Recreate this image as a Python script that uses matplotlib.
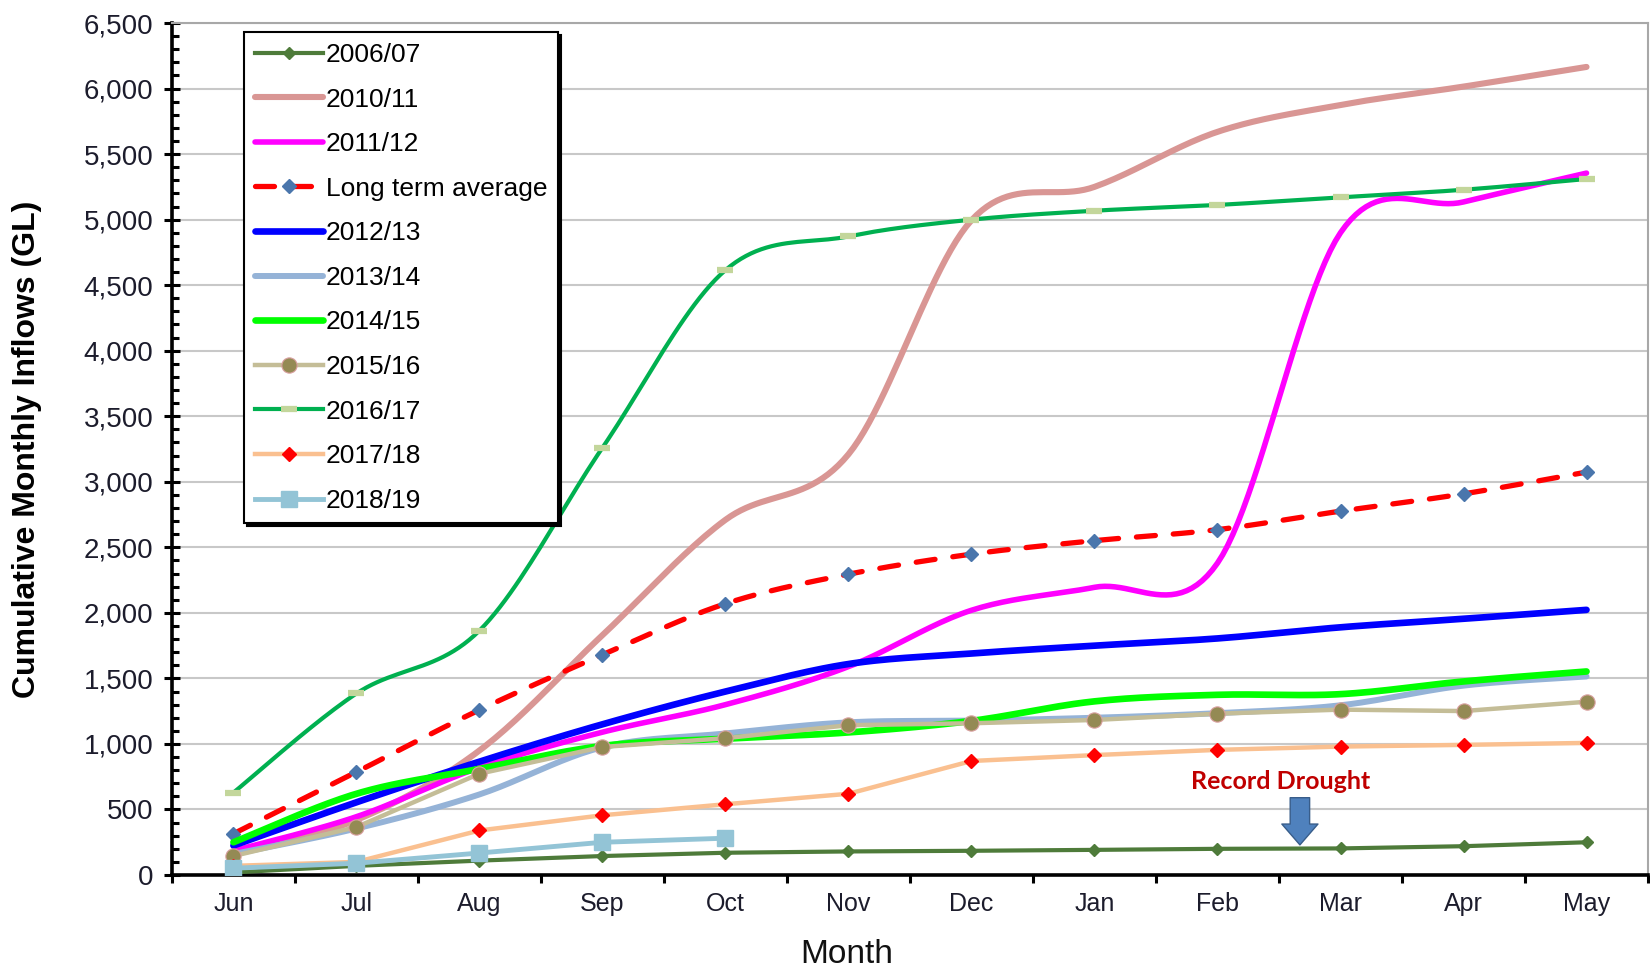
import numpy as np
import matplotlib
matplotlib.use("Agg")
import matplotlib.pyplot as plt
from matplotlib.ticker import FuncFormatter, MultipleLocator, FixedLocator

plt.rcParams['font.family'] = ['Liberation Sans', 'DejaVu Sans']

months = ['Jun', 'Jul', 'Aug', 'Sep', 'Oct', 'Nov', 'Dec', 'Jan', 'Feb', 'Mar', 'Apr', 'May']

# cumulative inflows (GL)
y2006 = [20, 70, 110, 145, 170, 180, 185, 192, 200, 203, 220, 250]
y2010 = [160, 420, 950, 1830, 2710, 3210, 4995, 5250, 5670, 5875, 6015, 6165]
y2011 = [185, 445, 820, 1090, 1300, 1590, 2020, 2195, 2380, 4900, 5135, 5355]
long_avg = [315, 786, 1260, 1680, 2070, 2295, 2448, 2551, 2635, 2776, 2908, 3074]
y2012 = [225, 555, 865, 1150, 1400, 1610, 1690, 1750, 1805, 1890, 1955, 2023]
y2013 = [160, 355, 615, 975, 1080, 1165, 1178, 1200, 1235, 1295, 1445, 1515]
y2014 = [250, 620, 810, 985, 1040, 1088, 1176, 1325, 1375, 1380, 1477, 1553]
y2015 = [145, 366, 773, 977, 1044, 1143, 1158, 1183, 1231, 1262, 1251, 1322]
y2016 = [629, 1385, 1865, 3260, 4615, 4872, 5000, 5068, 5112, 5170, 5228, 5310]
y2017 = [70, 100, 340, 456, 540, 620, 870, 915, 955, 980, 993, 1008]
y2018 = [52, 90, 168, 250, 281]

drought_pos = 8.67   # between Feb and Mar
drought_top, drought_tip = 590, 230


def smooth(vals, n=24):
    """Excel-like smoothed line (Catmull-Rom bezier). Returns x, y, marker idx."""
    x = np.arange(len(vals), dtype=float)
    y = np.asarray(vals, dtype=float)
    P = np.column_stack([x, y])
    P = np.vstack([P[:1], P, P[-1:]])
    t = np.linspace(0, 1, n, endpoint=False)[:, None]
    out = []
    for i in range(len(vals) - 1):
        p0, p1, p2, p3 = P[i], P[i + 1], P[i + 2], P[i + 3]
        c1 = p1 + (p2 - p0) / 6
        c2 = p2 - (p3 - p1) / 6
        seg = ((1 - t) ** 3) * p1 + 3 * ((1 - t) ** 2) * t * c1 + 3 * (1 - t) * t ** 2 * c2 + t ** 3 * p2
        out.append(seg)
    out.append(P[-2:-1])
    out = np.vstack(out)
    return out[:, 0], out[:, 1], list(range(0, len(out), n))


fig = plt.figure(figsize=(16.5, 9.67), dpi=100)
ax = fig.add_axes([0.1042, 0.0951, 0.8946, 0.8811])

# 2006/07
ax.plot(range(len(y2006)), y2006, color='#4E7B3A', lw=3, marker='D', ms=6.5,
        mfc='#4E7B3A', mec='#4E7B3A', label='2006/07', zorder=3)
# 2010/11
sx, sy, mk = smooth(y2010)
ax.plot(sx, sy, color='#D99694', lw=4.4, solid_capstyle='round', label='2010/11', zorder=3)
# 2011/12
sx, sy, mk = smooth(y2011)
ax.plot(sx, sy, color='#FF00FF', lw=4, solid_capstyle='round', label='2011/12', zorder=3)
# long term average
sx, sy, mk = smooth(long_avg)
ax.plot(sx, sy, color='#FF0000', lw=3.8, dashes=(3.6, 3.4), dash_capstyle='round',
        marker='D', ms=7, mfc='#4A76AC', mec='#4A76AC', markevery=mk,
        label='Long term average', zorder=3)
# 2012/13
sx, sy, mk = smooth(y2012)
ax.plot(sx, sy, color='#0000FF', lw=4.8, solid_capstyle='round', label='2012/13', zorder=3)
# 2013/14
sx, sy, mk = smooth(y2013)
ax.plot(sx, sy, color='#95B3D7', lw=4.3, solid_capstyle='round', label='2013/14', zorder=3)
# 2014/15
sx, sy, mk = smooth(y2014)
ax.plot(sx, sy, color='#00FF00', lw=4.8, solid_capstyle='round', label='2014/15', zorder=3)
# 2015/16
ax.plot(range(len(y2015)), y2015, color='#C4BD97', lw=3.2, marker='o', ms=11,
        mfc='#948A54', mec='#D9A0A0', mew=0.8, label='2015/16', zorder=3)
# 2016/17
sx, sy, mk = smooth(y2016)
ax.plot(sx, sy, color='#00B050', lw=3, marker='_', ms=11, mew=4.5,
        mec='#C3D69B', markevery=mk, label='2016/17', zorder=3)
# 2017/18
ax.plot(range(len(y2017)), y2017, color='#FAC090', lw=3.2, marker='D', ms=7.5,
        mfc='#FF0000', mec='#FF0000', label='2017/18', zorder=3)
# 2018/19
ax.plot(range(len(y2018)), y2018, color='#93C4D6', lw=3.5, marker='s', ms=11.5,
        mfc='#93C4D6', mec='#93C4D6', label='2018/19', zorder=3)

# record drought annotation
ax.annotate('', xy=(drought_pos, drought_tip), xytext=(drought_pos, drought_top),
            arrowprops=dict(arrowstyle='simple,head_width=2.6,head_length=1.5,tail_width=1.4',
                            fc='#4F81BD', ec='#385D8A', lw=1, shrinkA=0, shrinkB=0,
                            mutation_scale=10), zorder=4)
ax.text(8.51, 712, 'Record Drought', color='#C00000', fontsize=18, fontweight='bold',
        family=['Lato', 'DejaVu Sans'], ha='center', va='center', zorder=4)

# axes
ax.set_xlim(-0.5, 11.5)
ax.set_ylim(0, 6500)
ax.yaxis.set_major_locator(MultipleLocator(500))
ax.yaxis.set_minor_locator(MultipleLocator(100))
ax.yaxis.set_major_formatter(FuncFormatter(lambda v, p: f'{v:,.0f}'))
ax.xaxis.set_major_locator(FixedLocator(np.arange(-0.5, 12, 1)))
ax.xaxis.set_minor_locator(FixedLocator(np.arange(12)))
ax.xaxis.set_major_formatter(FuncFormatter(lambda v, p: ''))
ax.set_xticklabels(months, minor=True)
ax.tick_params(axis='x', which='major', direction='out', length=6, width=2.2, color='black')
ax.tick_params(axis='x', which='minor', length=0, labelsize=18, labelcolor='#1C1C2C', pad=12)
ax.tick_params(axis='y', which='major', direction='inout', length=11, width=2.2,
               labelsize=20, labelcolor='#1C1C2C', pad=8)
ax.tick_params(axis='y', which='minor', direction='in', length=5, width=2.2)

ax.grid(True, axis='y', which='major', color='#C8C8C8', lw=1.5, zorder=0)
ax.set_axisbelow(True)
for s in ['left', 'bottom']:
    ax.spines[s].set_linewidth(2.6)
    ax.spines[s].set_color('black')
for s in ['top', 'right']:
    ax.spines[s].set_linewidth(1.5)
    ax.spines[s].set_color('#A8A8A8')

ax.set_ylabel('Cumulative Monthly Inflows (GL)', fontsize=23, fontweight='bold')
ax.yaxis.set_label_coords(-0.088, 0.5)
ax.set_xlabel('Month', fontsize=24, color='#111111')
ax.xaxis.set_label_coords(0.457, -0.075)

leg = ax.legend(loc='upper left', bbox_to_anchor=(0.0488, 0.989), fontsize=19,
                frameon=True, fancybox=False, shadow={'color': 'black', 'alpha': 1.0},
                edgecolor='black', framealpha=1, handlelength=2.6, handletextpad=0.1,
                labelspacing=0.78, borderpad=0.4, borderaxespad=0, numpoints=1)
leg.get_frame().set_linewidth(1.5)
leg.set_zorder(10)

fig.savefig('out.png', dpi=100)
